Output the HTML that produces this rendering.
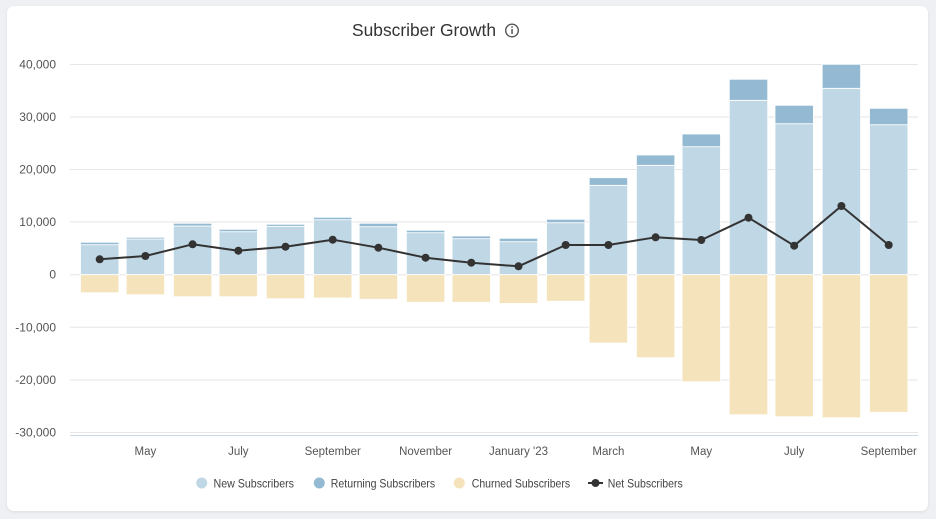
<!DOCTYPE html>
<html><head><meta charset="utf-8"><style>
html,body{margin:0;padding:0;background:#eef0f3;width:936px;height:519px;overflow:hidden}
.card{position:absolute;left:7px;top:6px;width:921px;height:505px;background:#fff;border-radius:7px;box-shadow:0 1px 3px rgba(0,0,0,0.08)}
svg{position:absolute;left:0;top:0}
text{font-family:"Liberation Sans",sans-serif}
</style></head><body>
<div class="card"></div>
<svg width="936" height="519" viewBox="0 0 936 519">
<text x="424" y="36" font-size="17.5" fill="#333" text-anchor="middle" textLength="144" lengthAdjust="spacingAndGlyphs">Subscriber Growth</text>
<circle cx="512" cy="30.5" r="6.3" fill="none" stroke="#555" stroke-width="1.4"/>
<rect x="511.3" y="29" width="1.5" height="5" fill="#555"/>
<rect x="511.3" y="26.3" width="1.5" height="1.5" fill="#555"/>
<g stroke="#e6e6e6" stroke-width="1">
<line x1="70" x2="918" y1="64.5" y2="64.5"/>
<line x1="70" x2="918" y1="117" y2="117"/>
<line x1="70" x2="918" y1="169.5" y2="169.5"/>
<line x1="70" x2="918" y1="222" y2="222"/>
<line x1="70" x2="918" y1="274.7" y2="274.7"/>
<line x1="70" x2="918" y1="327.3" y2="327.3"/>
<line x1="70" x2="918" y1="380" y2="380"/>
<line x1="70" x2="918" y1="432.5" y2="432.5"/>
</g>
<line x1="70" x2="918" y1="435.5" y2="435.5" stroke="#ccd6eb" stroke-width="1"/>
<g font-size="12" fill="#555" text-anchor="end">
<text x="56" y="68.5">40,000</text>
<text x="56" y="121">30,000</text>
<text x="56" y="173.5">20,000</text>
<text x="56" y="226">10,000</text>
<text x="56" y="278.7">0</text>
<text x="56" y="331.3">-10,000</text>
<text x="56" y="384">-20,000</text>
<text x="56" y="436.5">-30,000</text>
</g>
<g id="bars" stroke="#fff" stroke-width="0.8"></g>
<g font-size="11.5" fill="#555" text-anchor="middle">
<text x="145.4" y="455">May</text>
<text x="238.3" y="455">July</text>
<text x="332.7" y="455">September</text>
<text x="425.6" y="455">November</text>
<text x="518.5" y="455">January '23</text>
<text x="608.4" y="455">March</text>
<text x="701.3" y="455">May</text>
<text x="794.2" y="455">July</text>
<text x="888.7" y="455">September</text>
</g>
<g font-size="12" fill="#444">
<circle cx="201.7" cy="483" r="5.5" fill="#c0d7e5"/>
<text x="213.5" y="487.3" textLength="80.5" lengthAdjust="spacingAndGlyphs">New Subscribers</text>
<circle cx="319.3" cy="483" r="5.5" fill="#93b9d3"/>
<text x="330.8" y="487.3" textLength="104.3" lengthAdjust="spacingAndGlyphs">Returning Subscribers</text>
<circle cx="459.3" cy="483" r="5.5" fill="#f5e3bb"/>
<text x="471.8" y="487.3" textLength="98.3" lengthAdjust="spacingAndGlyphs">Churned Subscribers</text>
<line x1="588" x2="603" y1="483" y2="483" stroke="#333" stroke-width="2"/>
<circle cx="595.5" cy="483" r="4" fill="#333"/>
<text x="607.8" y="487.3" textLength="75" lengthAdjust="spacingAndGlyphs">Net Subscribers</text>
</g>
<g id="line"></g>
</svg>
<script>
var cx=[99.7,145.4,192.6,238.3,285.5,332.7,378.4,425.6,471.3,518.5,565.7,608.4,655.6,701.3,748.5,794.2,841.4,888.7];
var d=[[242.3,244.7,292.7,259.3],[237.3,239,294.7,256],[223.3,226,296.7,244.3],[229.3,231.7,296.7,250.7],[224.3,226.3,298.7,246.7],[217.3,219.7,298,239.7],[223.3,226.7,299.3,247.7],[230.3,232.7,302.3,257.7],[236,238.7,302.3,262.7],[238.3,241.7,303.5,266.3],[219.3,222.7,301.3,245],[177.7,185.3,343,245],[155,165.3,357.7,237.3],[134,146.7,381.7,240],[79.3,100.3,414.7,217.7],[105.3,123.7,416.7,245.7],[64.3,88.3,417.7,206],[108.3,124.7,412.3,245]];
var z=274.7,w=38.4,s="",l="",pts=[];
for(var i=0;i<18;i++){var x=cx[i]-w/2,r=d[i];
s+='<rect x="'+x+'" y="'+r[1]+'" width="'+w+'" height="'+(z-r[1])+'" fill="#c0d7e5"/>';
s+='<rect x="'+x+'" y="'+r[0]+'" width="'+w+'" height="'+(r[1]-r[0])+'" fill="#93b9d3"/>';
s+='<rect x="'+x+'" y="'+z+'" width="'+w+'" height="'+(r[2]-z)+'" fill="#f5e3bb"/>';
pts.push(cx[i]+','+r[3]);
l+='<circle cx="'+cx[i]+'" cy="'+r[3]+'" r="4" fill="#333"/>';}
document.getElementById('bars').innerHTML=s;
document.getElementById('line').innerHTML='<polyline points="'+pts.join(' ')+'" fill="none" stroke="#333" stroke-width="2" stroke-linejoin="round"/>'+l;
</script>
</body></html>
